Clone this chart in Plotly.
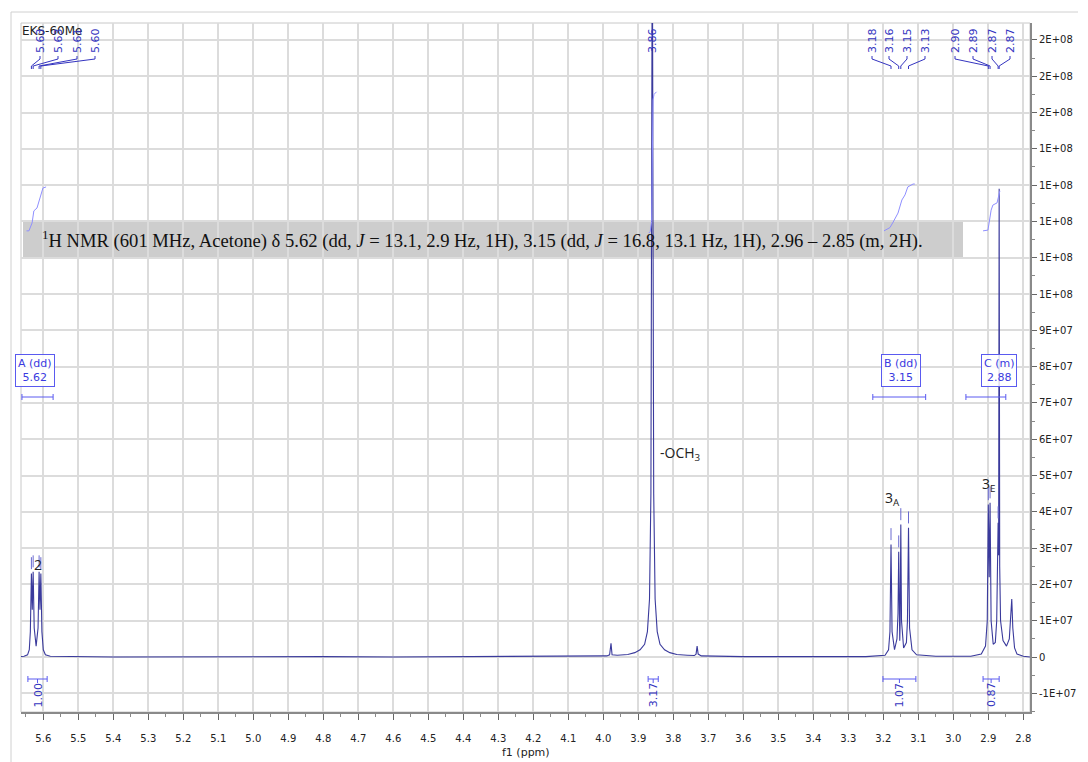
import plotly.graph_objects as go

# ---------------- data ----------------
# 1H spectrum (ppm, intensity)
spec_ppm = [5.680, 5.655, 5.645, 5.640, 5.637, 5.634, 5.6315, 5.629, 5.626, 5.6205, 5.615, 5.612, 5.6095, 5.607,
            5.604, 5.600, 5.594, 5.580, 5.40, 5.20, 5.00, 4.80, 4.60, 4.40, 4.20, 4.05,
            3.990, 3.982, 3.978, 3.975, 3.960, 3.930, 3.910, 3.895, 3.882, 3.874, 3.868, 3.864, 3.862, 3.860,
            3.858, 3.856, 3.852, 3.846, 3.838, 3.825, 3.810, 3.790, 3.760, 3.740, 3.735, 3.732, 3.729, 3.720,
            3.60, 3.40, 3.25, 3.195, 3.185, 3.181, 3.178, 3.175, 3.168, 3.161, 3.158, 3.156, 3.154, 3.153,
            3.152, 3.150, 3.148, 3.142, 3.134, 3.131, 3.128, 3.125, 3.118, 3.105, 3.05, 2.95,
            2.920, 2.908, 2.903, 2.900, 2.8975, 2.895, 2.892, 2.886, 2.880, 2.876, 2.873, 2.872, 2.8705, 2.869,
            2.8675, 2.865, 2.858, 2.848, 2.840, 2.836, 2.833, 2.830, 2.825, 2.818, 2.800, 2.780]
spec_int = [0.0, 0.02e7, 0.06e7, 0.2e7, 0.7e7, 2.30e7, 1.3e7, 2.35e7, 0.8e7, 0.3e7, 0.8e7, 2.35e7, 1.3e7, 2.30e7,
            0.7e7, 0.2e7, 0.06e7, 0.02e7, 0.0, 0.01e7, 0.0, 0.01e7, 0.0, 0.01e7, 0.0, 0.01e7,
            0.03e7, 0.06e7, 0.38e7, 0.06e7, 0.05e7, 0.07e7, 0.12e7, 0.2e7, 0.35e7, 0.7e7, 1.6e7, 4.5e7, 1.2e8, 2.1e8,
            1.2e8, 4.5e7, 1.6e7, 0.7e7, 0.35e7, 0.2e7, 0.12e7, 0.07e7, 0.05e7, 0.04e7, 0.08e7, 0.3e7, 0.08e7, 0.03e7,
            0.01e7, 0.0, 0.01e7, 0.05e7, 0.2e7, 0.7e7, 3.1e7, 0.7e7, 0.2e7, 0.5e7, 1.2e7, 2.9e7, 0.9e7, 0.45e7,
            0.9e7, 3.65e7, 1.0e7, 0.25e7, 0.4e7, 1.0e7, 3.56e7, 0.8e7, 0.2e7, 0.06e7, 0.02e7, 0.02e7,
            0.08e7, 0.3e7, 1.0e7, 4.2e7, 2.2e7, 4.25e7, 1.0e7, 0.35e7, 0.4e7, 1.0e7, 2.5e7, 3.7e7, 2.8e7, 1.29e8,
            2.5e7, 1.0e7, 0.45e7, 0.3e7, 0.5e7, 1.0e7, 1.6e7, 0.8e7, 0.25e7, 0.08e7, 0.02e7, 0.0]

# integral curves
intA_ppm = [5.648, 5.641, 5.632, 5.627, 5.618, 5.607, 5.601, 5.592]
intA_val = [11.74e7, 11.74e7, 11.96e7, 12.29e7, 12.37e7, 12.75e7, 12.92e7, 12.95e7]
intO_ppm = [3.870, 3.866, 3.862, 3.860, 3.858, 3.855, 3.848]
intO_val = [11.68e7, 11.72e7, 12.0e7, 14.5e7, 15.35e7, 15.5e7, 15.57e7]
intB_ppm = [3.198, 3.181, 3.172, 3.158, 3.147, 3.138, 3.130, 3.115, 3.110]
intB_val = [11.74e7, 11.83e7, 11.98e7, 12.23e7, 12.59e7, 12.73e7, 12.95e7, 13.03e7, 13.03e7]
intC_ppm = [2.915, 2.901, 2.892, 2.887, 2.875, 2.869, 2.867]
intC_val = [11.74e7, 11.76e7, 12.31e7, 12.45e7, 12.51e7, 12.78e7, 12.84e7]

# picked peaks
peak_ppm = [5.634, 5.629, 5.612, 5.607, 3.860, 3.178, 3.156, 3.150, 3.128, 2.900, 2.895, 2.872, 2.869]
peak_height = [2.30e7, 2.35e7, 2.35e7, 2.30e7, 2.1e8, 3.1e7, 2.9e7, 3.65e7, 3.56e7, 4.2e7, 4.25e7, 3.7e7, 1.29e8]
peak_text = ["5.63", "5.63", "5.61", "5.60", "3.86", "3.18", "3.16", "3.15", "3.13", "2.90", "2.89", "2.87", "2.87"]

# multiplets
mult_text = ["A (dd)<br>5.62", "B (dd)<br>3.15", "C (m)<br>2.88"]
mult_from = [5.661, 3.230, 2.964]
mult_to = [5.572, 3.079, 2.850]

# integrals
integ_from = [5.644, 3.872, 3.201, 2.915]
integ_to = [5.589, 3.843, 3.107, 2.869]
integ_val = ["1.00", "3.17", "1.07", "0.87"]

# axes
x_ticks = [round(5.6 - 0.1 * i, 1) for i in range(29)]
y_tickvals = [-1e7, 0, 1e7, 2e7, 3e7, 4e7, 5e7, 6e7, 7e7, 8e7, 9e7, 1.0e8, 1.1e8, 1.2e8, 1.3e8, 1.4e8, 1.5e8, 1.6e8, 1.7e8]
y_ticktext = ["-1E+07", "0", "1E+07", "2E+07", "3E+07", "4E+07", "5E+07", "6E+07", "7E+07", "8E+07", "9E+07",
              "1E+08", "1E+08", "1E+08", "1E+08", "1E+08", "2E+08", "2E+08", "2E+08"]

# ---------------- layout helpers ----------------
OFF = 8                      # page body margin of the html page
W, H = 1088 - OFF, 762 - OFF
PL, PR, PT, PB = 21, 1030, 23, 712   # plot area in screen pixels
X0, X1 = 5.6637, 2.7809
Y0, Y1 = -1.515e7, 17.466e7

def py(y):
    return (PB - y) / (PB - PT)

def px(x):
    return (x - PL) / (PR - PL)

def ppm_of(x):
    return X0 + (X1 - X0) * (x - PL) / (PR - PL)

LINE = "#3a3a9c"
BLUE = "#3434c0"
INTC = "#8f8fff"
FONT = "DejaVu Sans"

fig = go.Figure()

fig.add_trace(go.Scatter(x=spec_ppm, y=spec_int, mode="lines",
                         line=dict(color=LINE, width=1.1), hoverinfo="skip", cliponaxis=True))

for xs, ys in [(intA_ppm, intA_val), (intO_ppm, intO_val), (intB_ppm, intB_val), (intC_ppm, intC_val)]:
    fig.add_trace(go.Scatter(x=xs, y=ys, mode="lines", line=dict(color=INTC, width=1), hoverinfo="skip"))

# peak markers (short dashes above picked peaks)
mx, my = [], []
for p, h in zip(peak_ppm, peak_height):
    if h < 1e8:
        mx += [p, p, None]
        my += [h + 0.12e7, h + 0.45e7, None]
fig.add_trace(go.Scatter(x=mx, y=my, mode="lines", line=dict(color="#6a6ad0", width=1), hoverinfo="skip"))

shapes = []
annotations = []

# outer frame and plot frame
shapes.append(dict(type="line", xref="paper", yref="paper", x0=px(11), x1=px(1078), y0=py(12), y1=py(12),
                   line=dict(color="#d0d0d0", width=1)))
shapes.append(dict(type="line", xref="paper", yref="paper", x0=px(11), x1=px(11), y0=py(12), y1=py(762),
                   line=dict(color="#d0d0d0", width=1)))
shapes.append(dict(type="rect", xref="paper", yref="paper", x0=0, x1=1, y0=0, y1=1,
                   line=dict(color="#c8c8c8", width=1), layer="below"))

# grey text box
shapes.append(dict(type="rect", xref="paper", yref="paper", x0=px(23), x1=px(963), y0=py(258), y1=py(220),
                   fillcolor="#cdcdcd", line=dict(width=0), layer="between"))
annotations.append(dict(xref="paper", yref="paper", x=px(40), y=py(239), xanchor="left", yanchor="middle",
                        showarrow=False,
                        text="<sup>1</sup>H NMR (601 MHz, Acetone) δ 5.62 (dd, <i>J</i> = 13.1, 2.9 Hz, 1H), "
                             "3.15 (dd, <i>J</i> = 16.8, 13.1 Hz, 1H), 2.96 – 2.85 (m, 2H).",
                        font=dict(family="Liberation Serif", size=18.6, color="#111111")))

# title
annotations.append(dict(xref="paper", yref="paper", x=px(20), y=py(31), xanchor="left", yanchor="middle",
                        showarrow=False, text="EKS-60Me", font=dict(family=FONT, size=12, color="#222222")))

# peak labels with connectors
label_px = [40, 58, 77, 95, 652, 872, 889, 907, 925, 955, 973, 992, 1010]
for t, p, lx in zip(peak_text, peak_ppm, label_px):
    annotations.append(dict(xref="x", yref="paper", x=ppm_of(lx), y=py(41), textangle=-90,
                            showarrow=False, text=t, font=dict(family=FONT, size=11, color=BLUE),
                            xanchor="center", yanchor="middle"))
    if t != "3.86":
        pts = [(ppm_of(lx), py(56)), (ppm_of(lx), py(59)), (p, py(66)), (p, py(69))]
        path = "M " + " L ".join(f"{a},{b}" for a, b in pts)
        shapes.append(dict(type="path", xref="x", yref="paper", path=path,
                           line=dict(color=BLUE, width=1)))

# multiplet boxes and range brackets
mult_cx = [35, 901, 999]
for t, a, b, cx in zip(mult_text, mult_from, mult_to, mult_cx):
    annotations.append(dict(xref="x", yref="paper", x=ppm_of(cx), y=py(370), showarrow=False, text=t,
                            font=dict(family=FONT, size=11, color="#3a3ae0"), bordercolor="#5a5af0",
                            borderwidth=1, borderpad=2, bgcolor="rgba(255,255,255,0.85)",
                            xanchor="center", yanchor="middle"))
    shapes.append(dict(type="line", xref="x", yref="paper", x0=a, x1=b, y0=py(397), y1=py(397),
                       line=dict(color="#5a5af0", width=1)))
    for e in (a, b):
        shapes.append(dict(type="line", xref="x", yref="paper", x0=e, x1=e, y0=py(394), y1=py(400),
                           line=dict(color="#5a5af0", width=1)))

# integral brackets at the bottom
for a, b, v in zip(integ_from, integ_to, integ_val):
    m = (a + b) / 2
    shapes.append(dict(type="line", xref="x", yref="paper", x0=a, x1=b, y0=py(679), y1=py(679),
                       line=dict(color="#5a5af0", width=1)))
    for e in (a, b):
        shapes.append(dict(type="line", xref="x", yref="paper", x0=e, x1=e, y0=py(676), y1=py(682),
                           line=dict(color="#5a5af0", width=1)))
    shapes.append(dict(type="line", xref="x", yref="paper", x0=m, x1=m, y0=py(679), y1=py(683),
                       line=dict(color="#5a5af0", width=1)))
    annotations.append(dict(xref="x", yref="paper", x=m, y=py(695), textangle=-90, showarrow=False, text=v,
                            font=dict(family=FONT, size=11, color=BLUE), xanchor="center", yanchor="middle"))

# assignment labels
annotations.append(dict(xref="x", yref="paper", x=ppm_of(38), y=py(564), showarrow=False, text="2",
                        font=dict(family="Open Sans", size=14, color="#222222"), yanchor="middle"))
annotations.append(dict(xref="x", yref="paper", x=ppm_of(680), y=py(453), showarrow=False, text="-OCH<sub>3</sub>",
                        font=dict(family="Open Sans", size=14, color="#222222")))
annotations.append(dict(xref="x", yref="paper", x=ppm_of(892), y=py(511), showarrow=False, text="3<sub>A</sub>",
                        font=dict(family="Open Sans", size=14, color="#222222")))
annotations.append(dict(xref="x", yref="paper", x=ppm_of(988), y=py(497), showarrow=False, text="3<sub>E</sub>",
                        font=dict(family="Open Sans", size=14, color="#222222")))

# axis title
annotations.append(dict(xref="paper", yref="paper", x=px(526), y=py(752), showarrow=False, text="f1 (ppm)",
                        font=dict(family=FONT, size=11, color="#222222"), yanchor="middle"))

fig.update_layout(
    width=W, height=H,
    margin=dict(l=PL - OFF, r=(1088 - PR), t=PT - OFF, b=(762 - PB), pad=0),
    paper_bgcolor="white", plot_bgcolor="white",
    showlegend=False,
    shapes=shapes, annotations=annotations,
    xaxis=dict(range=[X0, X1], tickvals=x_ticks, ticktext=[f"{v:.1f}" for v in x_ticks],
               showgrid=True, gridcolor="#dcdcdc", gridwidth=1.5, zeroline=False,
               showline=True, linecolor="#8a8a8a", linewidth=1.5,
               ticks="outside", ticklen=6, tickcolor="#666666", ticklabelstandoff=10,
               minor=dict(dtick=0.05, tick0=2.8, ticks="outside", ticklen=3, tickcolor="#888888", showgrid=False),
               tickfont=dict(family=FONT, size=10, color="#222222")),
    yaxis=dict(range=[Y0, Y1], side="right", tickvals=y_tickvals, ticktext=y_ticktext,
               showgrid=True, gridcolor="#dcdcdc", gridwidth=1.5, zeroline=False,
               showline=True, linecolor="#8a8a8a", linewidth=2,
               ticks="outside", ticklen=5, tickcolor="#666666",
               minor=dict(dtick=5e6, tick0=0, ticks="outside", ticklen=3, tickcolor="#888888", showgrid=False),
               tickfont=dict(family=FONT, size=10, color="#222222")),
)

fig.write_html("out.html")
